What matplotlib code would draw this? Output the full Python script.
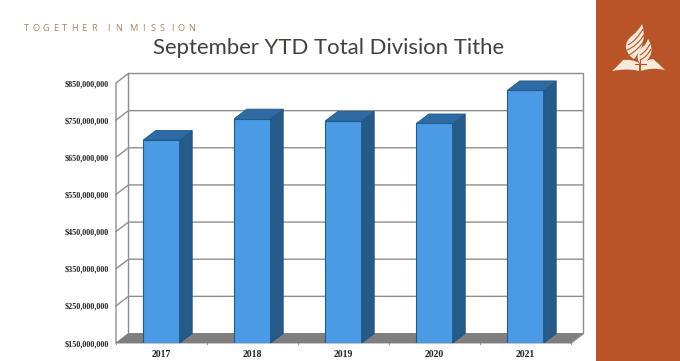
import matplotlib
matplotlib.use('Agg')
import matplotlib.pyplot as plt
from matplotlib.patches import Polygon, PathPatch, Rectangle
from matplotlib.path import Path

years = ['2017', '2018', '2019', '2020', '2021']
tithe = [696600000, 754000000, 748000000, 741000000, 830000000]
y_ticks = [150000000, 250000000, 350000000, 450000000, 550000000, 650000000, 750000000, 850000000]

W, H = 680, 361
BAR_W = 0.4
DX = 12.5 / 91                 # depth of the 3d box in data units
DY = 9.5 / 37.14 * 100000000
ORANGE = '#B85428'
LOGO = '#F6EADB'

fig = plt.figure(figsize=(W / 100, H / 100), dpi=100, facecolor='white')
# whole figure in pixels, for the slide furniture
bg = fig.add_axes([0, 0, 1, 1])
bg.set_xlim(0, W)
bg.set_ylim(H, 0)
bg.axis('off')

bg.add_patch(Rectangle((596, 0), 84, H, color=ORANGE, lw=0))
# tagline is letterspaced, so one text per letter
x = 26.5
for word in ['TOGETHER', 'IN', 'MISSION']:
    for letter in word:
        bg.text(x, 28.5, letter, fontsize=6.6, color='#A9835F', family='Open Sans', ha='center', va='center')
        x += 9.6
    x += 5.5
bg.text(329, 48, 'September YTD Total Division Tithe', fontsize=15.9, color='#44403C',
        family='Lato', ha='center', va='center')


def curve(points, close=True):
    # points: start, then (ctrl, end) pairs
    verts = [points[0]]
    codes = [Path.MOVETO]
    for p in points[1:]:
        verts.append(p)
        codes.append(Path.CURVE3)
    if close:
        verts.append(points[0])
        codes.append(Path.CLOSEPOLY)
    return Path(verts, codes)


# logo
flame1 = curve([(642, 24), (646, 36), (641, 48), (638, 54), (634, 59),
                (628, 56), (626, 48), (625, 41), (633, 35), (639, 30), (642, 24)])
flame2 = curve([(648, 39), (654, 48), (650, 56), (647, 62), (642, 66),
                (636, 60), (638, 53), (640, 48), (645, 45), (647, 42), (648, 39)])
book_l = curve([(612, 71), (618, 66), (623, 60), (632, 59), (639, 63), (639, 67), (639, 71),
                (628, 68), (612, 71)])
book_r = curve([(665, 70), (658, 63), (653, 59), (646, 60), (641, 64), (641, 67), (641, 71),
                (652, 67), (665, 70)])
for p in [flame1, flame2, book_l, book_r]:
    bg.add_patch(PathPatch(p, facecolor=LOGO, edgecolor='none'))
# stripes across the flames
for start, ctrl, end in [((628, 45), (636, 41), (643, 29)), ((627, 50), (637, 46), (644, 35)),
                         ((629, 55), (638, 50), (644, 41)), ((640, 55), (646, 52), (650, 44)),
                         ((640, 60), (647, 57), (651, 49))]:
    bg.add_patch(PathPatch(Path([start, ctrl, end], [Path.MOVETO, Path.CURVE3, Path.CURVE3]),
                           facecolor='none', edgecolor=ORANGE, lw=0.8))
bg.plot([640, 640], [60, 72], color=ORANGE, lw=0.8)
bg.plot([635, 646], [64, 64], color=ORANGE, lw=0.8)

# front plane of the chart: x 116-571, y 83-343 px
ax = fig.add_axes([116 / W, 1 - 343 / H, 455 / W, 260 / H])
ax.set_xlim(0, 5)
ax.set_ylim(150000000, 850000000)
ax.patch.set_alpha(0)
for s in ax.spines.values():
    s.set_visible(False)

line_c = '#8E8E8E'
ymin, ymax = y_ticks[0], y_ticks[-1]

# floor
ax.add_patch(Polygon([(0, ymin), (5, ymin), (5 + DX, ymin + DY), (DX, ymin + DY)],
                     facecolor='#7F7F7F', edgecolor='#777777', lw=0.6, clip_on=False, zorder=1))
# walls and gridlines
ax.plot([0, 0, DX, DX], [ymin, ymax, ymax + DY, ymin + DY], color=line_c, lw=1, clip_on=False, zorder=1.5)
ax.plot([DX, 5 + DX, 5 + DX, 5], [ymax + DY, ymax + DY, ymin + DY, ymin], color=line_c, lw=1,
        clip_on=False, zorder=1.5)
for v in y_ticks[1:-1]:
    ax.plot([0, DX, 5 + DX], [v, v + DY, v + DY], color=line_c, lw=1, clip_on=False, zorder=1.5)

# bars
xs = [i + 0.5 for i in range(len(years))]
ax.bar(xs, [v - ymin for v in tithe], bottom=ymin, width=BAR_W, color='#4A9AE6',
       edgecolor='#1F5C8C', lw=0.8, zorder=3)
for x, v in zip(xs, tithe):
    r = x + BAR_W / 2
    l = x - BAR_W / 2
    ax.add_patch(Polygon([(r, ymin), (r + DX, ymin + DY), (r + DX, v + DY), (r, v)],
                         facecolor='#255B88', edgecolor='#1F4F78', lw=0.6, clip_on=False, zorder=3))
    ax.add_patch(Polygon([(l, v), (r, v), (r + DX, v + DY), (l + DX, v + DY)],
                         facecolor='#2E6AA3', edgecolor='#1F5C8C', lw=0.6, clip_on=False, zorder=3))

ax.set_xticks(xs)
ax.set_xticklabels(years, family='Liberation Serif', fontweight='bold', fontsize=7, color='#222222')
ax.set_yticks(y_ticks)
ax.set_yticklabels(['$' + format(v, ',') for v in y_ticks], family='Liberation Serif',
                   fontweight='bold', fontsize=5.9, color='#222222')
ax.tick_params(axis='x', length=0, pad=5)
ax.tick_params(axis='y', length=0, pad=5)
for m in range(6):
    ax.plot([m, m], [ymin, ymin - 4000000], color=line_c, lw=0.7, clip_on=False)

fig.savefig('out.png', dpi=100)
